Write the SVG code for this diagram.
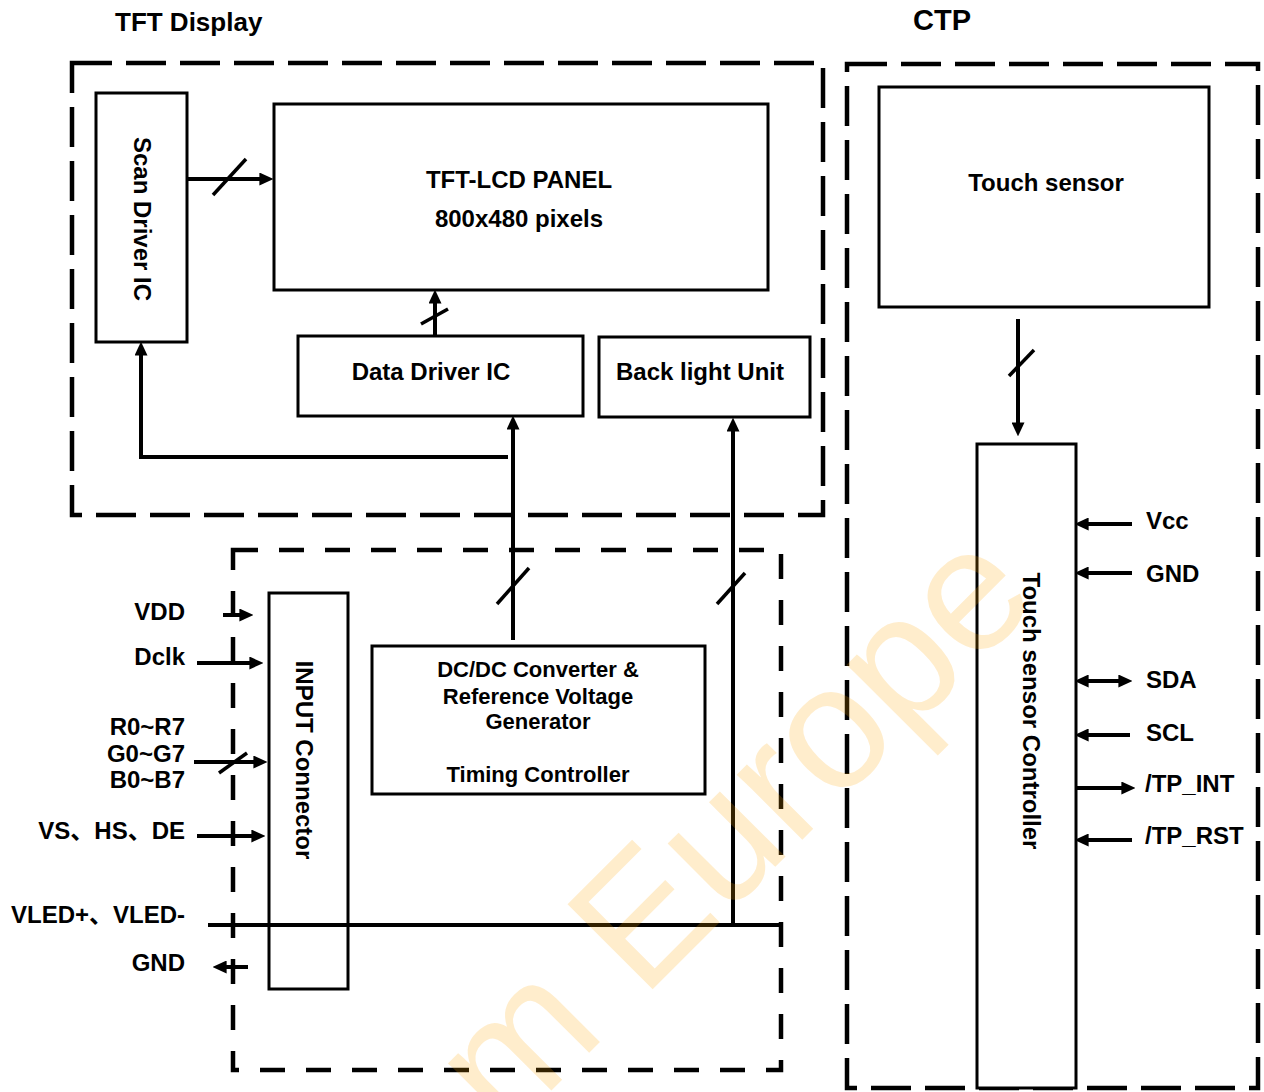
<svg xmlns="http://www.w3.org/2000/svg" width="1264" height="1092" viewBox="0 0 1264 1092">
<defs>
<marker id="ah" viewBox="0 0 10 10" refX="4" refY="5" markerWidth="14" markerHeight="13" markerUnits="userSpaceOnUse" orient="auto-start-reverse" preserveAspectRatio="none">
<path d="M0,0 L10,5 L0,10 z" fill="#000"/>
</marker>
<style>
text{font-family:"Liberation Sans",Arial,"Noto Sans CJK SC",sans-serif;font-weight:bold;fill:#000}
.t{font-size:24px}
.d{font-size:22px}
.c{text-anchor:middle}
.r{text-anchor:end}
.box{fill:#fff;stroke:#000;stroke-width:3}
.dash1{fill:none;stroke:#000;stroke-width:4.5;stroke-dasharray:40 14}
.dash2{fill:none;stroke:#000;stroke-width:4.5;stroke-dasharray:25 21}
.w{fill:none;stroke:#000;stroke-width:4}
.a{fill:none;stroke:#000;stroke-width:4;marker-end:url(#ah)}
.aa{fill:none;stroke:#000;stroke-width:4;marker-end:url(#ah);marker-start:url(#ah)}
.s{fill:none;stroke:#000;stroke-width:3.5}
</style>
</defs>
<rect width="1264" height="1092" fill="#fff"/>

<g id="titles">
<text x="115" y="31" style="font-size:26px">TFT Display</text>
<text x="913" y="30" style="font-size:29px">CTP</text>
</g>

<g id="frames">
<rect class="dash1" x="72" y="63" width="751" height="452"/>
<rect class="dash1" x="847" y="64" width="411" height="1024"/>
<rect class="dash2" x="233" y="550" width="548" height="520"/>
</g>

<g id="scan-driver">
<rect class="box" x="96" y="93" width="91" height="249"/>
<text class="t c" transform="translate(142,219) rotate(90)" dominant-baseline="central">Scan Driver IC</text>
</g>
<g id="tft-panel">
<rect class="box" x="274" y="104" width="494" height="186"/>
<text class="t c" x="519" y="188">TFT-LCD PANEL</text>
<text class="t c" x="519" y="227">800x480 pixels</text>
</g>
<g id="data-driver">
<rect class="box" x="298" y="336" width="285" height="80"/>
<text class="t c" x="431" y="380">Data Driver IC</text>
</g>
<g id="backlight">
<rect class="box" x="599" y="337" width="211" height="80"/>
<text class="t c" x="700" y="380">Back light Unit</text>
</g>
<g id="touch-sensor">
<rect class="box" x="879" y="87" width="330" height="220"/>
<text class="t c" x="1046" y="191">Touch sensor</text>
</g>
<g id="touch-controller">
<rect class="box" x="977" y="444" width="99" height="644"/>
<text class="t c" transform="translate(1031,711) rotate(90)" dominant-baseline="central">Touch sensor Controller</text>
</g>
<g id="input-connector">
<rect class="box" x="269" y="593" width="79" height="396"/>
<text class="t c" transform="translate(304,760) rotate(90)" dominant-baseline="central">INPUT Connector</text>
</g>
<g id="dcdc">
<rect class="box" x="372" y="646" width="333" height="148"/>
<text class="d c" x="538" y="677">DC/DC Converter &amp;</text>
<text class="d c" x="538" y="704">Reference Voltage</text>
<text class="d c" x="538" y="729">Generator</text>
<text class="d c" x="538" y="782">Timing Controller</text>
</g>

<g id="connectors">
<path class="a" d="M187,179 H265"/>
<path class="s" d="M213,195 L246,159"/>
<path class="a" d="M508,457 H141 V350"/>
<path class="a" d="M435,336 V298"/>
<path class="s" d="M421,324 L448,309"/>
<path class="a" d="M513,640 V424"/>
<path class="s" d="M497,604 L529,568"/>
<path class="a" d="M733,925 V426"/>
<path class="s" d="M717,604 L745,573"/>
<path class="w" d="M208,925 H781"/>
<path class="a" d="M1018,319 V428"/>
<path class="s" d="M1009,376 L1034,350"/>
<path class="a" d="M1132,524 H1083"/>
<path class="a" d="M1132,573 H1083"/>
<path class="aa" d="M1083,681 H1124"/>
<path class="a" d="M1130,735 H1083"/>
<path class="a" d="M1076,788 H1127"/>
<path class="a" d="M1132,840 H1083"/>
<path class="a" d="M223,615 H245"/>
<path class="a" d="M197,663 H255"/>
<path class="a" d="M194,762 H259"/>
<path class="s" d="M219,773 L247,753"/>
<path class="a" d="M197,836 H257"/>
<path class="a" d="M248,967 H221"/>
</g>

<g id="signal-labels">
<text class="t r" x="185" y="620">VDD</text>
<text class="t r" x="185" y="665">Dclk</text>
<text class="t r" x="185" y="735">R0~R7</text>
<text class="t r" x="185" y="762">G0~G7</text>
<text class="t r" x="185" y="788">B0~B7</text>
<text class="t r" x="185" y="839">VS、HS、DE</text>
<text class="t r" x="185" y="923">VLED+、VLED-</text>
<text class="t r" x="185" y="971">GND</text>
<text class="t" x="1146" y="529">Vcc</text>
<text class="t" x="1146" y="582">GND</text>
<text class="t" x="1146" y="688">SDA</text>
<text class="t" x="1146" y="741">SCL</text>
<text class="t" x="1145" y="792">/TP_INT</text>
<text class="t" x="1145" y="844">/TP_RST</text>
</g>

<text x="505" y="1137" transform="rotate(-45 505 1137)" style="font-family:'Liberation Sans',Arial,sans-serif;font-weight:normal;font-size:175px;fill:#FFA500;fill-opacity:0.2">m Europe</text>
</svg>
